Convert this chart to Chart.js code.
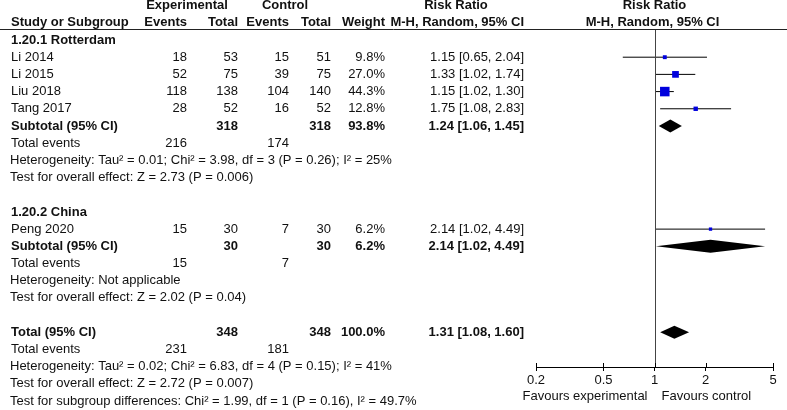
<!DOCTYPE html>
<html><head><meta charset="utf-8">
<script src="https://cdn.jsdelivr.net/npm/chart.js@4/dist/chart.umd.min.js"></script>
<style>html,body{margin:0;padding:0;background:#fff;}#wrap{width:787px;height:410px;}</style>
</head><body><div id="wrap"><canvas id="c" width="787" height="410"></canvas></div>
<script>
// ---------- data ----------
const subgroupNames = ['1.20.1 Rotterdam', '1.20.2 China'];
const studyNames = ['Li 2014', 'Li 2015', 'Liu 2018', 'Tang 2017', 'Peng 2020'];
const studyGroup = [0, 0, 0, 0, 1];
const expEvents = [18, 52, 118, 28, 15];
const expTotal = [53, 75, 138, 52, 30];
const ctrlEvents = [15, 39, 104, 16, 7];
const ctrlTotal = [51, 75, 140, 52, 30];
const studyWeight = [9.8, 27.0, 44.3, 12.8, 6.2];
const studyRR = [1.15, 1.33, 1.15, 1.75, 2.14];
const studyLow = [0.65, 1.02, 1.02, 1.08, 1.02];
const studyHigh = [2.04, 1.74, 1.30, 2.83, 4.49];

const subExpTotal = [318, 30];
const subCtrlTotal = [318, 30];
const subWeight = [93.8, 6.2];
const subRR = [1.24, 2.14];
const subLow = [1.06, 1.02];
const subHigh = [1.45, 4.49];
const subExpEvents = [216, 15];
const subCtrlEvents = [174, 7];
const subHetero = ['Heterogeneity: Tau\u00b2 = 0.01; Chi\u00b2 = 3.98, df = 3 (P = 0.26); I\u00b2 = 25%', 'Heterogeneity: Not applicable'];
const subTest = ['Test for overall effect: Z = 2.73 (P = 0.006)', 'Test for overall effect: Z = 2.02 (P = 0.04)'];

const totalExpTotal = [348];
const totalCtrlTotal = [348];
const totalWeight = [100.0];
const totalRR = [1.31];
const totalLow = [1.08];
const totalHigh = [1.60];
const totalExpEvents = [231];
const totalCtrlEvents = [181];
const totalHetero = 'Heterogeneity: Tau\u00b2 = 0.02; Chi\u00b2 = 6.83, df = 4 (P = 0.15); I\u00b2 = 41%';
const totalTest = 'Test for overall effect: Z = 2.72 (P = 0.007)';
const subgroupDiffTest = 'Test for subgroup differences: Chi\u00b2 = 1.99, df = 1 (P = 0.16), I\u00b2 = 49.7%';

const xTicks = [0.2, 0.5, 1, 2, 5];
const favourLabels = ['Favours experimental', 'Favours control'];
const headerTop = ['Experimental', 'Control', 'Risk Ratio', 'Risk Ratio'];
const headerSub = ['Study or Subgroup', 'Events', 'Total', 'Events', 'Total', 'Weight', 'M-H, Random, 95% CI', 'M-H, Random, 95% CI'];

// ---------- row layout ----------
const rows = [];
let r = 2;
const studyRow = [];
const subRow = [];
subgroupNames.forEach((g, gi) => {
  rows.push({ r: r++, kind: 'group', gi });
  studyNames.forEach((s, si) => {
    if (studyGroup[si] === gi) { studyRow[si] = r; rows.push({ r: r++, kind: 'study', si }); }
  });
  subRow[gi] = r; rows.push({ r: r++, kind: 'sub', gi });
  rows.push({ r: r++, kind: 'subEvents', gi });
  rows.push({ r: r++, kind: 'text', text: subHetero[gi] });
  rows.push({ r: r++, kind: 'text', text: subTest[gi] });
  r++;
});
const totalRow = r;
rows.push({ r: r++, kind: 'total' });
rows.push({ r: r++, kind: 'totalEvents' });
rows.push({ r: r++, kind: 'text', text: totalHetero });
rows.push({ r: r++, kind: 'text', text: totalTest });
rows.push({ r: r++, kind: 'text', text: subgroupDiffTest });

const FONT = "'Liberation Sans', Arial, sans-serif";
const FS = 13;
const fmtRR = (v, l, h) => v.toFixed(2) + ' [' + l.toFixed(2) + ', ' + h.toFixed(2) + ']';
const COL = { name: 11, ee: 187, et: 238, ce: 289, ct: 331, w: 385, rr: 524 };

const ciSets = studyNames.map((s, i) => ({
  data: [{ x: studyLow[i], y: studyRow[i] }, { x: studyHigh[i], y: studyRow[i] }],
  showLine: true, borderColor: '#000', borderWidth: 1, pointRadius: 0, pointHoverRadius: 0
}));
const squareSet = {
  data: studyNames.map((s, i) => ({ x: studyRR[i], y: studyRow[i] })),
  pointStyle: 'rect',
  pointRadius: studyWeight.map(w => (2.3 + 0.163 * w) / Math.SQRT2),
  backgroundColor: '#0000dd', borderWidth: 0, showLine: false
};

const textPlugin = {
  id: 'forestText',
  afterDatasetsDraw(chart) {
    const ctx = chart.ctx, xs = chart.scales.x, ys = chart.scales.y, ca = chart.chartArea;
    const dia = (v, l, h, row) => {
      const y = ys.getPixelForValue(row);
      ctx.beginPath();
      ctx.moveTo(xs.getPixelForValue(l), y);
      ctx.lineTo(xs.getPixelForValue(v), y - 6.5);
      ctx.lineTo(xs.getPixelForValue(h), y);
      ctx.lineTo(xs.getPixelForValue(v), y + 6.5);
      ctx.closePath();
      ctx.fillStyle = '#000';
      ctx.fill();
    };
    ctx.save();
    subgroupNames.forEach((g, gi) => dia(subRR[gi], subLow[gi], subHigh[gi], subRow[gi]));
    dia(totalRR[0], totalLow[0], totalHigh[0], totalRow);
    const x1 = Math.round(xs.getPixelForValue(1)) + 0.5;
    ctx.strokeStyle = '#444'; ctx.lineWidth = 1;
    ctx.beginPath(); ctx.moveTo(x1, Math.round(ca.top)); ctx.lineTo(x1, ca.bottom); ctx.stroke();
    ctx.strokeStyle = '#222';
    ctx.beginPath(); ctx.moveTo(0, Math.round(ca.top) + 0.5); ctx.lineTo(787, Math.round(ca.top) + 0.5); ctx.stroke();
    ctx.strokeStyle = '#000';
    xs.ticks.forEach(t => {
      const px = Math.round(xs.getPixelForValue(t.value)) + 0.5;
      ctx.beginPath(); ctx.moveTo(px, ca.bottom - 4); ctx.lineTo(px, ca.bottom); ctx.stroke();
    });
    ctx.restore();
  },
  afterDraw(chart) {
    const ctx = chart.ctx, xs = chart.scales.x, ys = chart.scales.y, ca = chart.chartArea;
    ctx.save();
    ctx.fillStyle = '#111';
    ctx.textBaseline = 'middle';
    const txt = (s, x, row, align, bold) => {
      ctx.font = (bold ? 'bold ' : '') + FS + 'px ' + FONT;
      ctx.textAlign = align;
      ctx.fillText(s, x, ys.getPixelForValue(row));
    };
    const xNull = xs.getPixelForValue(1);
    txt(headerTop[0], 187, 0, 'center', true);
    txt(headerTop[1], 285, 0, 'center', true);
    txt(headerTop[2], 456, 0, 'center', true);
    txt(headerTop[3], xNull, 0, 'center', true);
    txt(headerSub[0], COL.name, 1, 'left', true);
    txt(headerSub[1], COL.ee, 1, 'right', true);
    txt(headerSub[2], COL.et, 1, 'right', true);
    txt(headerSub[3], COL.ce, 1, 'right', true);
    txt(headerSub[4], COL.ct, 1, 'right', true);
    txt(headerSub[5], COL.w, 1, 'right', true);
    txt(headerSub[6], COL.rr, 1, 'right', true);
    txt(headerSub[7], xNull - 2, 1, 'center', true);
    rows.forEach(o => {
      if (o.kind === 'group') txt(subgroupNames[o.gi], COL.name, o.r, 'left', true);
      else if (o.kind === 'study') {
        const i = o.si;
        txt(studyNames[i], COL.name, o.r, 'left');
        txt(String(expEvents[i]), COL.ee, o.r, 'right');
        txt(String(expTotal[i]), COL.et, o.r, 'right');
        txt(String(ctrlEvents[i]), COL.ce, o.r, 'right');
        txt(String(ctrlTotal[i]), COL.ct, o.r, 'right');
        txt(studyWeight[i].toFixed(1) + '%', COL.w, o.r, 'right');
        txt(fmtRR(studyRR[i], studyLow[i], studyHigh[i]), COL.rr, o.r, 'right');
      } else if (o.kind === 'sub') {
        const g = o.gi;
        txt('Subtotal (95% CI)', COL.name, o.r, 'left', true);
        txt(String(subExpTotal[g]), COL.et, o.r, 'right', true);
        txt(String(subCtrlTotal[g]), COL.ct, o.r, 'right', true);
        txt(subWeight[g].toFixed(1) + '%', COL.w, o.r, 'right', true);
        txt(fmtRR(subRR[g], subLow[g], subHigh[g]), COL.rr, o.r, 'right', true);
      } else if (o.kind === 'subEvents') {
        txt('Total events', COL.name, o.r, 'left');
        txt(String(subExpEvents[o.gi]), COL.ee, o.r, 'right');
        txt(String(subCtrlEvents[o.gi]), COL.ce, o.r, 'right');
      } else if (o.kind === 'total') {
        txt('Total (95% CI)', COL.name, o.r, 'left', true);
        txt(String(totalExpTotal[0]), COL.et, o.r, 'right', true);
        txt(String(totalCtrlTotal[0]), COL.ct, o.r, 'right', true);
        txt(totalWeight[0].toFixed(1) + '%', COL.w, o.r, 'right', true);
        txt(fmtRR(totalRR[0], totalLow[0], totalHigh[0]), COL.rr, o.r, 'right', true);
      } else if (o.kind === 'totalEvents') {
        txt('Total events', COL.name, o.r, 'left');
        txt(String(totalExpEvents[0]), COL.ee, o.r, 'right');
        txt(String(totalCtrlEvents[0]), COL.ce, o.r, 'right');
      } else if (o.kind === 'text') {
        txt(o.text, COL.name - 1, o.r, 'left');
      }
    });
    ctx.font = FS + 'px ' + FONT;
    ctx.textAlign = 'right';
    ctx.fillText(favourLabels[0], xNull - 7, ca.bottom + 29);
    ctx.textAlign = 'left';
    ctx.fillText(favourLabels[1], xNull + 7, ca.bottom + 29);
    ctx.restore();
  }
};

new Chart(document.getElementById('c'), {
  type: 'scatter',
  data: { datasets: [squareSet, ...ciSets] },
  options: {
    responsive: false, animation: false, devicePixelRatio: 1,
    layout: { padding: { left: 536, right: 14, top: 29, bottom: 0 } },
    plugins: { legend: { display: false }, tooltip: { enabled: false } },
    scales: {
      x: {
        type: 'logarithmic', min: 0.2, max: 5, position: 'bottom',
        afterBuildTicks: s => { s.ticks = xTicks.map(v => ({ value: v })); },
        afterFit: s => { s.height = 43; },
        grid: { display: true, drawOnChartArea: false, drawTicks: true, tickLength: 4, color: '#000', lineWidth: 1 },
        border: { display: true, color: '#000', width: 1 },
        ticks: { font: { family: FONT, size: FS }, color: '#111', padding: 2, maxRotation: 0, autoSkip: false, callback: v => String(v) }
      },
      y: { type: 'linear', reverse: true, min: 1.36, max: 21.02, display: false }
    }
  },
  plugins: [textPlugin]
});
</script></body></html>
